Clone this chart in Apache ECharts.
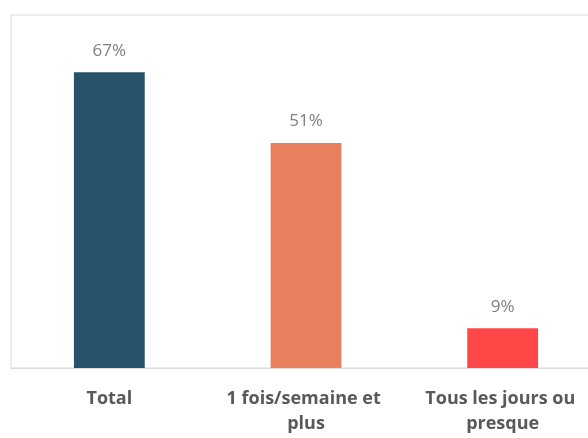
<!DOCTYPE html>
<html>
<head>
<meta charset="utf-8">
<script src="https://cdn.jsdelivr.net/npm/echarts@6/dist/echarts.min.js"></script>
<style>
  html, body { margin: 0; padding: 0; overflow: hidden; background: #fff; }
  #chart { width: 601px; height: 438px; }
</style>
</head>
<body>
<div id="chart"></div>
<script>
// données
var categories = ['Total', '1 fois/semaine et plus', 'Tous les jours ou presque'];
var values = [67, 51, 9];
var colors = ['#27536a', '#e8805e', '#ff4747'];

var option = {
    animation: false,
    grid: {
        show: true,
        left: 11,
        right: 0,
        top: 15,
        bottom: 70,
        borderColor: '#d9d9d9',
        borderWidth: 1
    },
    xAxis: {
        type: 'category',
        data: categories,
        axisLine: { lineStyle: { color: '#d9d9d9', width: 1 } },
        axisTick: { show: false },
        axisLabel: {
            interval: 0,
            margin: 18,
            width: 185,
            overflow: 'break',
            lineHeight: 25,
            fontFamily: 'Open Sans',
            fontWeight: 'bold',
            fontSize: 18,
            color: '#595959'
        }
    },
    yAxis: {
        type: 'value',
        min: 0,
        max: 80,
        show: false,
        splitLine: { show: false }
    },
    series: [{
        type: 'bar',
        barWidth: '36%',
        data: values.map(function (v, i) {
            return { value: v, itemStyle: { color: colors[i] } };
        }),
        label: {
            show: true,
            position: 'top',
            distance: 13,
            formatter: '{c}%',
            fontFamily: 'Open Sans',
            fontSize: 17,
            color: '#7f7f7f'
        }
    }]
};

var myChart = echarts.init(document.getElementById('chart'));
myChart.setOption(option);
</script>
</body>
</html>
